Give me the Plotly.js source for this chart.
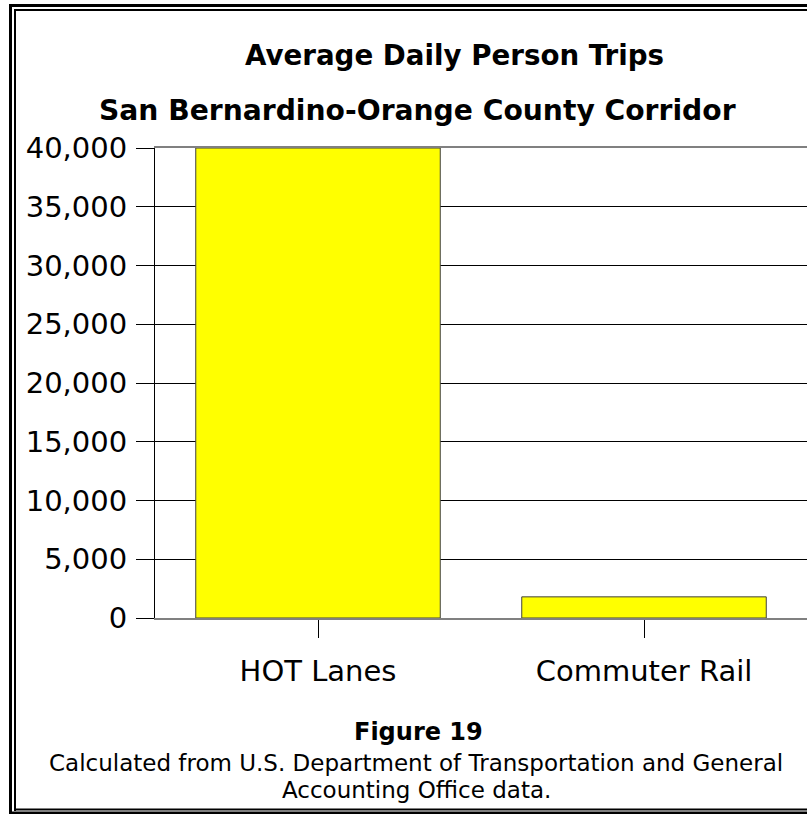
<!DOCTYPE html>
<html>
<head>
<meta charset="utf-8">
<script src="https://cdn.plot.ly/plotly-3.0.1.min.js"></script>
<style>
html,body{margin:0;padding:0;background:#fff;}
#chart{width:807px;height:814px;}
</style>
</head>
<body>
<div id="chart"></div>
<script>
// ---- data ----
var categories = ["HOT Lanes", "Commuter Rail"];
var trips = [40000, 1800];
var yTickValues = [0, 5000, 10000, 15000, 20000, 25000, 30000, 35000, 40000];
var titleLines = ["Average Daily Person Trips", "San Bernardino-Orange County Corridor"];
var figureLabel = "Figure 19";
var captionLines = ["Calculated from U.S. Department of Transportation and General", "Accounting Office data."];

// ---- layout helpers (pixel -> paper) ----
var W = 807, H = 814, L = 155, R = 0, T = 148, B = 196;
var PW = W - L - R, PH = H - T - B;
function px(x){ return (x - L) / PW; }
function py(y){ return (H - B - y) / PH; }

var FONT = "DejaVu Sans";

function hline(y, x0, x1, w){
  return {type:'line', xref:'paper', yref:'paper', x0:px(x0), x1:px(x1), y0:py(y), y1:py(y),
          line:{color:'#000', width:w}, layer:'above'};
}
function vline(x, y0, y1, w){
  return {type:'line', xref:'paper', yref:'paper', x0:px(x), x1:px(x), y0:py(y0), y1:py(y1),
          line:{color:'#000', width:w}, layer:'above'};
}

var shapes = [
  // outer thick frame
  hline(5.5, 9, 820, 3),
  vline(10.5, 4, 820, 3),
  hline(813, 9, 820, 3),
  // inner thin frame
  hline(10, 14, 820, 2),
  vline(15, 9, 811, 2),
  hline(809.5, 14, 820, 2)
];

function ann(text, x, y, size, bold){
  return {text: bold ? '<b>' + text + '</b>' : text, xref:'paper', yref:'paper',
          x:px(x), y:py(y), xanchor:'center', yanchor:'middle', showarrow:false,
          font:{family:FONT, size:size, color:'#000'}};
}

var annotations = [
  ann(titleLines[0], 454, 55, 27.7, true),
  ann(titleLines[1], 417, 110, 28.2, true),
  ann(figureLabel, 418, 732, 24, true),
  ann(captionLines[0], 415.5, 763, 23, false),
  ann(captionLines[1], 416, 790, 23, false)
];

var trace = {
  type:'bar',
  x: categories,
  y: trips,
  marker:{color:'#FFFF00', line:{color:'#404040', width:1}},
  hoverinfo:'skip'
};

var layout = {
  width: W, height: H,
  margin:{l:L, r:R, t:T, b:B, pad:0},
  paper_bgcolor:'#fff', plot_bgcolor:'#fff',
  showlegend:false,
  bargap:0.25,
  font:{family:FONT, color:'#000'},
  xaxis:{
    type:'category',
    showgrid:false, zeroline:false,
    showline:true, linecolor:'#808080', linewidth:2, mirror:true,
    ticks:'outside', ticklen:18, tickcolor:'#000', tickwidth:1,
    tickfont:{family:FONT, size:29, color:'#000'},
    ticklabelstandoff:8
  },
  yaxis:{
    range:[0, 40000],
    tickvals: yTickValues,
    tickformat:',d',
    showgrid:true, gridcolor:'#000', gridwidth:1,
    zeroline:false,
    showline:true, linecolor:'#000', linewidth:1,
    ticks:'outside', ticklen:18, tickcolor:'#000', tickwidth:1,
    tickfont:{family:FONT, size:29, color:'#000'},
    ticklabelstandoff:3
  },
  shapes: shapes,
  annotations: annotations
};

Plotly.newPlot('chart', [trace], layout, {displayModeBar:false, staticPlot:true});
</script>
</body>
</html>
